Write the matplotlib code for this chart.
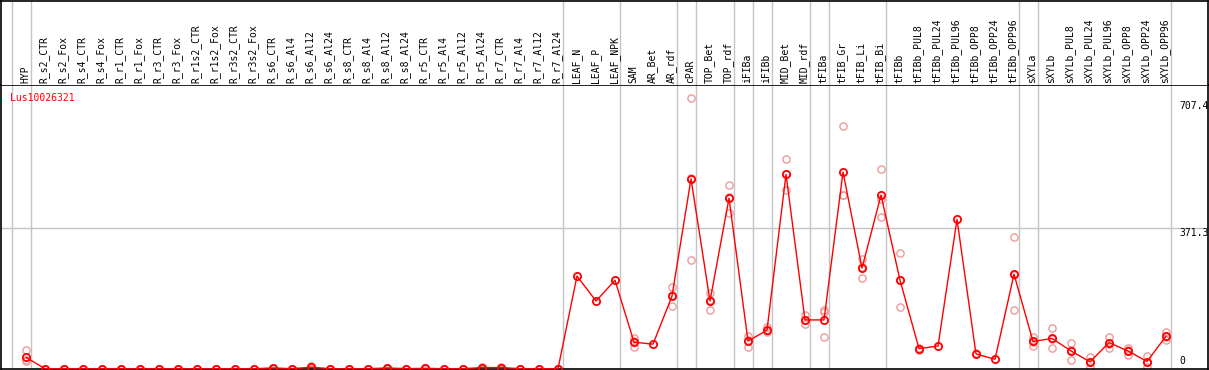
import numpy as np
import matplotlib
matplotlib.use("Agg")
import matplotlib.pyplot as plt

nan = np.nan

gene = "Lus10026321"

samples = ["HYP",
           "R_s2_CTR", "R_s2_Fox", "R_s4_CTR", "R_s4_Fox", "R_r1_CTR", "R_r1_Fox",
           "R_r3_CTR", "R_r3_Fox", "R_r1s2_CTR", "R_r1s2_Fox", "R_r3s2_CTR", "R_r3s2_Fox",
           "R_s6_CTR", "R_s6_Al4", "R_s6_Al12", "R_s6_Al24", "R_s8_CTR", "R_s8_Al4",
           "R_s8_Al12", "R_s8_Al24", "R_r5_CTR", "R_r5_Al4", "R_r5_Al12", "R_r5_Al24",
           "R_r7_CTR", "R_r7_Al4", "R_r7_Al12", "R_r7_Al24",
           "LEAF_N", "LEAF_P", "LEAF_NPK", "SAM", "AR_Bet", "AR_rdf", "cPAR",
           "TOP_Bet", "TOP_rdf", "iFIBa", "iFIBb", "MID_Bet", "MID_rdf", "tFIBa",
           "tFIB_Gr", "tFIB_Li", "tFIB_Bi", "tFIBb", "tFIBb_PUL8", "tFIBb_PUL24",
           "tFIBb_PUL96", "tFIBb_OPP8", "tFIBb_OPP24", "tFIBb_OPP96", "sXYLa", "sXYLb",
           "sXYLb_PUL8", "sXYLb_PUL24", "sXYLb_PUL96", "sXYLb_OPP8", "sXYLb_OPP24",
           "sXYLb_OPP96"]

# number of samples in each group (separated by grey lines)
group_sizes = [1, 28, 3, 3, 1, 2, 1, 1, 2, 1, 3, 7, 1, 7]

means = [30,
         0, 0, 0, 0, 0, 0, 0, 0, 0, 0, 0, 0,
         2, 0, 4, 0, 0, 0, 2, 0, 1, 0, 0, 3, 3, 0, 0, 0,
         245, 179, 234, 70, 65, 192, 502, 179, 451, 73, 102, 514, 129, 129,
         520, 266, 459, 234, 53, 60, 395, 39, 25, 250, 72, 80,
         47, 18, 69, 47, 19, 86]

rep1 = [49,
        0, 0, 0, 0, 0, 0, 0, 0, 0, 0, 0, 0,
        0, 0, 0, 0, 0, 0, 0, 0, 0, 0, 0, 0, 0, 0, 0, 0,
        nan, nan, nan, 80, nan, 215, 715, 199, 485, 86, 111, 555, 142, 155,
        642, 290, 528, 305, 50, nan, nan, 42, nan, 347, 85, 108,
        67, 30, 85, 56, 34, 98]
rep2 = [21,
        0, 0, 0, 0, 0, 0, 0, 0, 0, 0, 0, 0,
        3, 0, 6, 0, 0, 0, 3, 0, 2, 0, 0, 5, 4, 0, 0, 0,
        nan, nan, nan, 58, nan, 167, 287, 155, 413, 57, 96, 473, 117, 83,
        459, 239, 400, 162, 55, nan, nan, nan, nan, 155, 61, 55,
        23, 5, 56, 36, 5, 76]
rep3 = [22,
        0, 0, 0, 0, 0, 0, 0, 0, 0, 0, 0, 0,
        3, 0, 6, 0, 0, 0, 3, 0, 1, 0, 0, 4, 5, 0, 0, 0,
        nan, nan, nan, 72, nan, 194, 504, 183, 455, 76, 99, 514, 128, 150,
        460, 270, 449, 235, nan, nan, nan, nan, nan, 248, 70, 78,
        50, 19, 66, 49, 18, 84]

y_ticks = [0, 371.3, 707.4]

W, H = 1209, 370
fig = plt.figure(figsize=(W / 100, H / 100), dpi=100)

mono = "DejaVu Sans Mono"
x = np.arange(len(samples))

# main plot area: pixels 85..369 from the top
ax = fig.add_axes([1 / W, 1 / H, 1207 / W, 284 / H])
# header with the sample names
hax = fig.add_axes([1 / W, 285 / H, 1207 / W, 84.5 / H], sharex=ax)

ax.set_xlim(-1.316, 62.21)
ax.set_ylim(-0.8, 750.3)
hax.set_ylim(0, 1)

for a in (ax, hax):
    a.set_xticks([])
    a.set_yticks([])
    for s in a.spines.values():
        s.set_color("black")
        s.set_linewidth(1.2)
hax.spines["bottom"].set_visible(False)

# group separators
seps = np.concatenate([[-1], np.cumsum(group_sizes) - 1]) + 0.25
for sx in seps:
    ax.axvline(sx, color="#c4c4c4", lw=1, zorder=0)
    hax.axvline(sx, color="#c4c4c4", lw=1, zorder=0)

ax.axhline(y_ticks[1], color="#c4c4c4", lw=1, zorder=0)

for i, name in enumerate(samples):
    hax.text(i - 0.05, 0.025, name, rotation=90, ha="center", va="bottom",
             fontsize=7, family=mono)

# replicates
for rep in (rep1, rep2, rep3):
    ax.plot(x, rep, linestyle="none", marker="o", ms=5.2, mfc="none",
            mec="#ef9a9a", mew=1.0, zorder=2)

# mean line
ax.plot(x, means, color="red", lw=1, marker="o", ms=5.2, mfc="none",
        mec="red", mew=1.3, zorder=3)

ax.text(-0.84, 729, gene, color="red", fontsize=7, family=mono,
        ha="left", va="top")

ax.text(60.7, y_ticks[2], "707.4", fontsize=7, family=mono, ha="left", va="top")
ax.text(60.7, y_ticks[1], "371.3", fontsize=7, family=mono, ha="left", va="top")
ax.text(60.7, 6, "0", fontsize=7, family=mono, ha="left", va="bottom")

fig.savefig("out.png", dpi=100)
